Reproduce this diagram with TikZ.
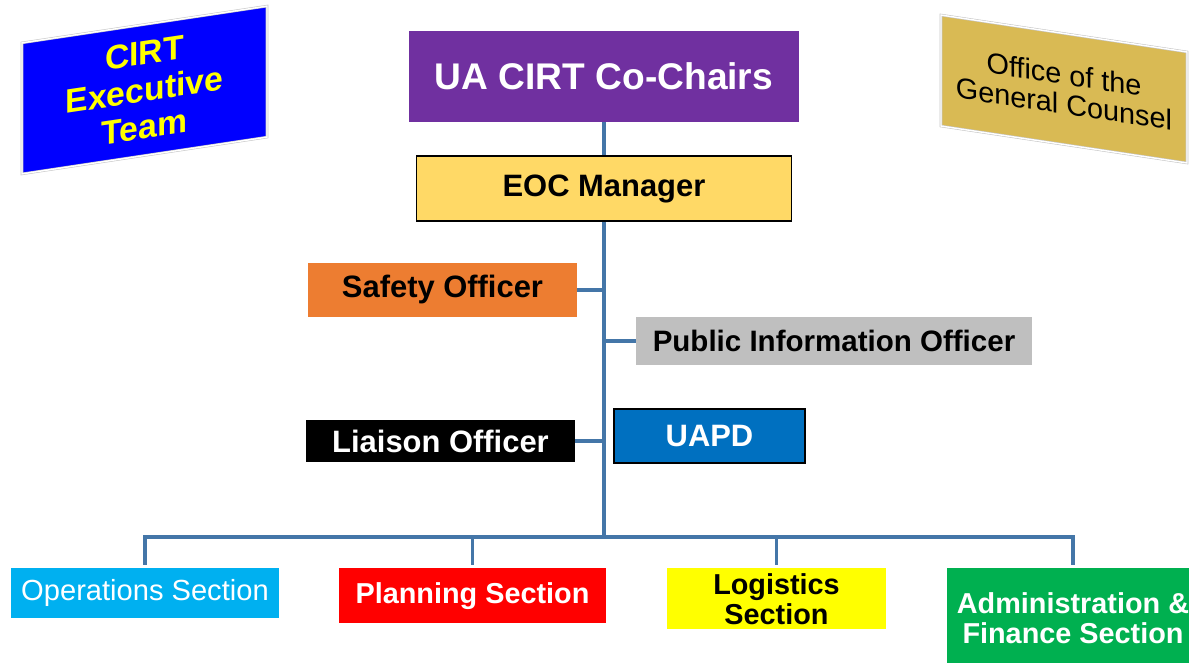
\documentclass[tikz,border=0pt]{standalone}
\usepackage{fontspec}
\setmainfont{Liberation Sans}
\usepackage{tikz}
\usetikzlibrary{arrows.meta}

\begin{document}
\begin{tikzpicture}[
    link/.style={draw=linkblue, line width=2.3pt},
    unit/.style={inner sep=0pt, align=center},
    big/.style={font=\fontsize{22}{24}\selectfont\bfseries},
    sec/.style={unit, anchor=north, font=\fontsize{20.5}{21.3}\selectfont\bfseries}
]

\definecolor{linkblue}{RGB}{68, 118, 168}
\definecolor{execblue}{RGB}{0, 0, 255}
\definecolor{execyellow}{RGB}{255, 255, 0}
\definecolor{counselgold}{RGB}{217, 186, 84}
\definecolor{chairpurple}{RGB}{112, 48, 160}
\definecolor{eocyellow}{RGB}{255, 217, 102}
\definecolor{safetyorange}{RGB}{237, 125, 49}
\definecolor{piogray}{RGB}{191, 191, 191}
\definecolor{uapdblue}{RGB}{0, 112, 192}
\definecolor{opscyan}{RGB}{0, 176, 240}
\definecolor{planred}{RGB}{255, 0, 0}
\definecolor{logiyellow}{RGB}{255, 255, 0}
\definecolor{admingreen}{RGB}{0, 176, 80}

\useasboundingbox (0, 0) rectangle (29.725, -16.575);
\clip (0, 0) rectangle (29.725, -16.575);

% Slanted side panels
\begin{scope}[shift={(3.6125, -2.25)}, yslant=0.15]
\node[unit, transform shape, draw=gray!45, double=white, double distance=1pt, fill=execblue, text=execyellow, minimum width=6.125cm, minimum height=3.275cm, font=\fontsize{24}{26.5}\selectfont\bfseries] (exec) at (0, 0) {CIRT\\Executive\\Team};
\end{scope}
\begin{scope}[shift={(26.6, -2.225)}, yslant=-0.15]
\node[unit, transform shape, draw=gray!45, double=white, double distance=1pt, fill=counselgold, minimum width=6.15cm, minimum height=2.775cm, font=\fontsize{20.5}{21}\selectfont] (counsel) at (0, 0) {Office of the\\General Counsel};
\end{scope}

% Top of the chain
\node[unit, fill=chairpurple, text=white, minimum width=9.75cm, minimum height=2.275cm, font=\fontsize{26.4}{28}\selectfont\bfseries] (cochairs) at (15.1, -1.9125) {UA CIRT Co-Chairs};
\node[unit, big, draw=black, line width=1.2pt, fill=eocyellow, minimum width=9.375cm, minimum height=1.625cm] (eoc) at (15.1, -4.7125) {EOC Manager};

% Command staff
\node[unit, big, fill=safetyorange, minimum width=6.725cm, minimum height=1.35cm] (safety) at (11.0625, -7.25) {Safety Officer};
\node[unit, fill=piogray, minimum width=9.9cm, minimum height=1.2cm, font=\fontsize{21}{23}\selectfont\bfseries] (pio) at (20.85, -8.525) {Public Information Officer};
\node[unit, big, fill=black, text=white, minimum width=6.725cm, minimum height=1.05cm] (liaison) at (11.0125, -11.025) {Liaison Officer};
\node[unit, big, draw=black, line width=1pt, fill=uapdblue, text=white, minimum width=4.775cm, minimum height=1.35cm] (uapd) at (17.7375, -10.9) {UAPD};

% Sections
\node[sec, fill=opscyan, text=white, minimum width=6.7cm, minimum height=1.25cm, font=\fontsize{20.7}{22}\selectfont] (ops) at (3.625, -14.2) {Operations Section};
\node[sec, fill=planred, text=white, minimum width=6.675cm, minimum height=1.375cm] (plan) at (11.8125, -14.2) {Planning Section};
\node[sec, fill=logiyellow, minimum width=5.475cm, minimum height=1.525cm] (logi) at (19.4125, -14.2) {Logistics\\Section};
\node[sec, fill=admingreen, text=white, minimum width=6.3cm, minimum height=2.5cm] (admin) at (26.825, -14.2) {Administration \&\\Finance Section};

% Lines
\coordinate (hub) at (15.1, -13.425);
\draw[link] (cochairs.south) -- (eoc.north);
\draw[link] (eoc.south) -- (hub);
\draw[link] (safety.east) -- (safety.east -| eoc.south);
\draw[link] (pio.west) -- (pio.west -| eoc.south);
\draw[link] (liaison.east) -- (liaison.east -| eoc.south);
\foreach \s in {ops, plan, logi, admin}
  \draw[link, shorten >=2pt] (hub) -| (\s.north);

\end{tikzpicture}
\end{document}
